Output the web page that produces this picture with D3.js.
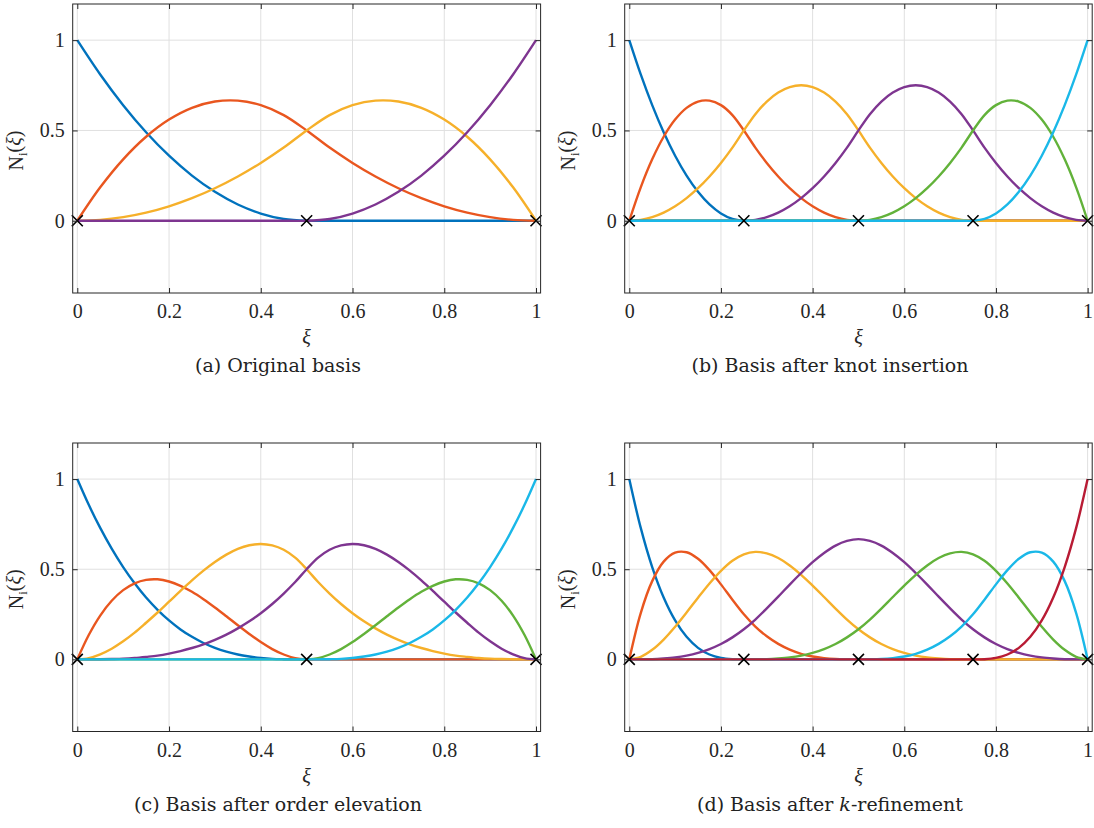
<!DOCTYPE html>
<html>
<head>
<meta charset="utf-8">
<script src="https://cdn.jsdelivr.net/npm/d3@7"></script>
<style>
  html, body { margin: 0; padding: 0; background: #fff; }
  svg { display: block; }
</style>
</head>
<body>
<svg id="chart" width="1094" height="828"></svg>
<script>
// ---------- sample grids (xi) ----------
const xs21 = [0,0.05,0.1,0.15,0.2,0.25,0.3,0.35,0.4,0.45,0.5,0.55,0.6,0.65,0.7,0.75,0.8,0.85,0.9,0.95,1];
const xs41 = [0,0.025,0.05,0.075,0.1,0.125,0.15,0.175,0.2,0.225,0.25,0.275,0.3,0.325,0.35,0.375,0.4,0.425,0.45,0.475,0.5,
              0.525,0.55,0.575,0.6,0.625,0.65,0.675,0.7,0.725,0.75,0.775,0.8,0.825,0.85,0.875,0.9,0.925,0.95,0.975,1];

// ---------- (a) original basis ----------
const basisA0 = [1,.81,.64,.49,.36,.25,.16,.09,.04,.01,0,0,0,0,0,0,0,0,0,0,0];
const basisA1 = [0,.185,.34,.465,.56,.625,.66,.665,.64,.585,.5,.405,.32,.245,.18,.125,.08,.045,.02,.005,0];
const basisA2 = [0,.005,.02,.045,.08,.125,.18,.245,.32,.405,.5,.585,.64,.665,.66,.625,.56,.465,.34,.185,0];
const basisA3 = [0,0,0,0,0,0,0,0,0,0,0,.01,.04,.09,.16,.25,.36,.49,.64,.81,1];
const knotsA = [0, 0.5, 1];

// ---------- (b) after knot insertion ----------
const basisB0 = [1,.81,.64,.49,.36,.25,.16,.09,.04,.01,0,
                 0,0,0,0,0,0,0,0,0,0,0,0,0,0,0,0,0,0,0,0,0,0,0,0,0,0,0,0,0,0];
const basisB1 = [0,.185,.34,.465,.56,.625,.66,.665,.64,.585,.5,.405,.32,.245,.18,.125,.08,.045,.02,.005,0,
                 0,0,0,0,0,0,0,0,0,0,0,0,0,0,0,0,0,0,0,0];
const basisB2 = [0,.005,.02,.045,.08,.125,.18,.245,.32,.405,.5,.59,.66,.71,.74,.75,.74,.71,.66,.59,.5,
                 .405,.32,.245,.18,.125,.08,.045,.02,.005,0,0,0,0,0,0,0,0,0,0,0];
const basisB3 = [0,0,0,0,0,0,0,0,0,0,0,.005,.02,.045,.08,.125,.18,.245,.32,.405,.5,
                 .59,.66,.71,.74,.75,.74,.71,.66,.59,.5,.405,.32,.245,.18,.125,.08,.045,.02,.005,0];
const basisB4 = [0,0,0,0,0,0,0,0,0,0,0,0,0,0,0,0,0,0,0,0,0,
                 .005,.02,.045,.08,.125,.18,.245,.32,.405,.5,.585,.64,.665,.66,.625,.56,.465,.34,.185,0];
const basisB5 = [0,0,0,0,0,0,0,0,0,0,0,0,0,0,0,0,0,0,0,0,0,
                 0,0,0,0,0,0,0,0,0,0,.01,.04,.09,.16,.25,.36,.49,.64,.81,1];
const knotsB = [0, 0.25, 0.5, 0.75, 1];

// ---------- (c) after order elevation ----------
const basisC0 = [1,.857,.729,.614,.512,.422,.343,.275,.216,.166,.125,.091,.064,.043,.027,.016,.008,.003,.001,0,0,
                 0,0,0,0,0,0,0,0,0,0,0,0,0,0,0,0,0,0,0,0];
const basisC1 = [0,.135,.243,.325,.384,.422,.441,.444,.432,.408,.375,.334,.288,.239,.189,.141,.096,.057,.027,.007,0,
                 0,0,0,0,0,0,0,0,0,0,0,0,0,0,0,0,0,0,0,0];
const basisC2 = [0,.007,.028,.059,.1,.148,.203,.26,.32,.38,.438,.492,.54,.581,.613,.633,.64,.632,.608,.564,.5,
                 .429,.365,.307,.256,.211,.172,.137,.108,.083,.063,.046,.032,.021,.014,.008,.004,.002,.001,0,0];
const basisC3 = [0,0,.0005,.002,.004,.008,.014,.021,.032,.046,.063,.083,.108,.137,.172,.211,.256,.307,.365,.429,.5,
                 .564,.608,.632,.64,.633,.613,.581,.54,.492,.438,.38,.32,.26,.203,.148,.1,.059,.028,.007,0];
const basisC4 = [0,0,0,0,0,0,0,0,0,0,0,0,0,0,0,0,0,0,0,0,0,
                 .007,.027,.057,.096,.141,.189,.239,.288,.334,.375,.408,.432,.444,.441,.422,.384,.325,.243,.135,0];
const basisC5 = [0,0,0,0,0,0,0,0,0,0,0,0,0,0,0,0,0,0,0,0,0,
                 0,.001,.003,.008,.016,.027,.043,.064,.091,.125,.166,.216,.275,.343,.422,.512,.614,.729,.857,1];
const knotsC = [0, 0.5, 1];

// ---------- (d) after k-refinement ----------
const basisD0 = [1,.729,.512,.343,.216,.125,.064,.027,.008,.001,0,
                 0,0,0,0,0,0,0,0,0,0,0,0,0,0,0,0,0,0,0,0,0,0,0,0,0,0,0,0,0,0];
const basisD1 = [0,.257,.434,.542,.592,.594,.558,.495,.416,.331,.25,.182,.128,.086,.054,.031,.016,.007,.002,.0003,0,
                 0,0,0,0,0,0,0,0,0,0,0,0,0,0,0,0,0,0,0,0];
const basisD2 = [0,.014,.053,.110,.181,.260,.342,.421,.491,.547,.583,.596,.588,.562,.521,.469,.409,.346,.282,.221,.167,
                 .122,.085,.057,.036,.021,.011,.005,.001,.0002,0,0,0,0,0,0,0,0,0,0,0];
const basisD3 = [0,.0002,.001,.005,.011,.021,.036,.057,.085,.122,.167,.221,.283,.348,.415,.479,.539,.590,.631,.657,.667,
                 .657,.631,.590,.539,.479,.415,.348,.283,.221,.167,.122,.085,.057,.036,.021,.011,.005,.001,.0002,0];
const basisD4 = [0,0,0,0,0,0,0,0,0,0,0,.0002,.001,.005,.011,.021,.036,.057,.085,.122,.167,
                 .221,.282,.346,.409,.469,.521,.562,.588,.596,.583,.547,.491,.421,.342,.260,.181,.110,.053,.014,0];
const basisD5 = [0,0,0,0,0,0,0,0,0,0,0,0,0,0,0,0,0,0,0,0,0,
                 .0003,.002,.007,.016,.031,.054,.086,.128,.182,.25,.331,.416,.495,.558,.594,.592,.542,.434,.257,0];
const basisD6 = [0,0,0,0,0,0,0,0,0,0,0,0,0,0,0,0,0,0,0,0,0,
                 0,0,0,0,0,0,0,0,0,0,.001,.008,.027,.064,.125,.216,.343,.512,.729,1];
const knotsD = [0, 0.25, 0.5, 0.75, 1];

// ---------- axis tick labels / captions ----------
const xTicks = [0, 0.2, 0.4, 0.6, 0.8, 1];
const yTicks = [0, 0.5, 1];
const xDomain = [-0.01, 1.01];
const yDomain = [-0.4, 1.2];
const colors = ["#0072BD", "#E9561F", "#F6B02A", "#7E3590", "#62B23A", "#1AB8E8", "#B81B34"];

const panels = [
  { pre: "(a) Original basis", italic: "", post: "", xs: xs21, series: [basisA0, basisA1, basisA2, basisA3], knots: knotsA, col: 0, row: 0 },
  { pre: "(b) Basis after knot insertion", italic: "", post: "", xs: xs41, series: [basisB0, basisB1, basisB2, basisB3, basisB4, basisB5], knots: knotsB, col: 1, row: 0 },
  { pre: "(c) Basis after order elevation", italic: "", post: "", xs: xs41, series: [basisC0, basisC1, basisC2, basisC3, basisC4, basisC5], knots: knotsC, col: 0, row: 1 },
  { pre: "(d) Basis after ", italic: "k", post: "-refinement", xs: xs41, series: [basisD0, basisD1, basisD2, basisD3, basisD4, basisD5, basisD6], knots: knotsD, col: 1, row: 1 }
];

// ---------- layout ----------
const colL = [72.7, 624.7], colR = [540.6, 1092.2];
const rowT = [4, 443], rowB = [293, 731.5];
const capX = [278, 830];
const tickFont = "'Liberation Serif', 'Times New Roman', Times, serif";
const capFont = "'DejaVu Serif', serif";
const axisColor = "#262626";

const svg = d3.select("#chart");

panels.forEach(p => {
  const x = d3.scaleLinear().domain(xDomain).range([colL[p.col], colR[p.col]]);
  const y = d3.scaleLinear().domain(yDomain).range([rowB[p.row], rowT[p.row]]);
  const g = svg.append("g");
  const x0 = colL[p.col], x1 = colR[p.col], y0 = rowT[p.row], y1 = rowB[p.row];

  // grid
  g.append("g").selectAll("line.vg").data(xTicks).join("line")
    .attr("x1", d => x(d)).attr("x2", d => x(d)).attr("y1", y0).attr("y2", y1)
    .attr("stroke", "#e0e0e0").attr("stroke-width", 1);
  g.append("g").selectAll("line.hg").data(yTicks).join("line")
    .attr("x1", x0).attr("x2", x1).attr("y1", d => y(d)).attr("y2", d => y(d))
    .attr("stroke", "#e0e0e0").attr("stroke-width", 1);

  // curves
  const line = d3.line().x(d => x(d[0])).y(d => y(d[1])).curve(d3.curveCatmullRom.alpha(0.5));
  p.series.forEach((s, i) => {
    const pts = p.xs.map((xv, k) => [xv, s[k]]);
    g.append("path").attr("d", line(pts)).attr("fill", "none")
      .attr("stroke", colors[i]).attr("stroke-width", 2.4)
      .attr("stroke-linejoin", "round").attr("stroke-linecap", "butt");
  });

  // knot markers
  const ms = 5.5;
  g.append("g").selectAll("path.knot").data(p.knots).join("path")
    .attr("d", d => {
      const cx = x(d), cy = y(0);
      return `M${cx - ms},${cy - ms}L${cx + ms},${cy + ms}M${cx - ms},${cy + ms}L${cx + ms},${cy - ms}`;
    })
    .attr("stroke", "#000").attr("stroke-width", 1.6).attr("fill", "none");

  // axes
  const styleAxis = sel => {
    sel.attr("font-family", null).attr("font-size", null);
    sel.select(".domain").remove();
    sel.selectAll("line").attr("stroke", axisColor);
    sel.selectAll("text").attr("fill", axisColor).style("font-family", tickFont).style("font-size", "20px");
  };
  g.append("g").attr("transform", `translate(0,${y1})`)
    .call(d3.axisBottom(x).tickValues(xTicks).tickFormat(d3.format("~g")).tickSizeInner(-5).tickSizeOuter(0).tickPadding(11))
    .call(styleAxis);
  g.append("g").attr("transform", `translate(0,${y0})`)
    .call(d3.axisTop(x).tickValues(xTicks).tickFormat("").tickSizeInner(-5).tickSizeOuter(0))
    .call(styleAxis);
  g.append("g").attr("transform", `translate(${x0},0)`)
    .call(d3.axisLeft(y).tickValues(yTicks).tickFormat(d3.format("~g")).tickSizeInner(-5).tickSizeOuter(0).tickPadding(8))
    .call(styleAxis);
  g.append("g").attr("transform", `translate(${x1},0)`)
    .call(d3.axisRight(y).tickValues(yTicks).tickFormat("").tickSizeInner(-5).tickSizeOuter(0))
    .call(styleAxis);

  // box
  g.append("rect").attr("x", x0).attr("y", y0).attr("width", x1 - x0).attr("height", y1 - y0)
    .attr("fill", "none").attr("stroke", axisColor).attr("stroke-width", 1);

  // y label
  const yl = g.append("text")
    .attr("transform", `translate(${x0 - 50},${(y0 + y1) / 2 + 2}) rotate(-90)`)
    .attr("text-anchor", "middle").attr("fill", axisColor)
    .style("font-family", tickFont).style("font-size", "20px");
  yl.append("tspan").text("N");
  yl.append("tspan").attr("dy", "0.3em").style("font-size", "13px").text("i");
  yl.append("tspan").attr("dy", "-0.3em").text("(");
  yl.append("tspan").style("font-style", "italic").text("ξ");
  yl.append("tspan").text(")");

  // x label
  g.append("text").attr("x", (x0 + x1) / 2).attr("y", y1 + 51)
    .attr("text-anchor", "middle").attr("fill", axisColor)
    .style("font-family", tickFont).style("font-size", "20px").style("font-style", "italic")
    .text("ξ");

  // caption
  const cap = g.append("text").attr("x", capX[p.col]).attr("y", y1 + 79)
    .attr("text-anchor", "middle").attr("fill", "#222")
    .style("font-family", capFont).style("font-size", "19px");
  cap.append("tspan").text(p.pre);
  if (p.italic) cap.append("tspan").style("font-style", "italic").text(p.italic);
  if (p.post) cap.append("tspan").text(p.post);
});
</script>
</body>
</html>
